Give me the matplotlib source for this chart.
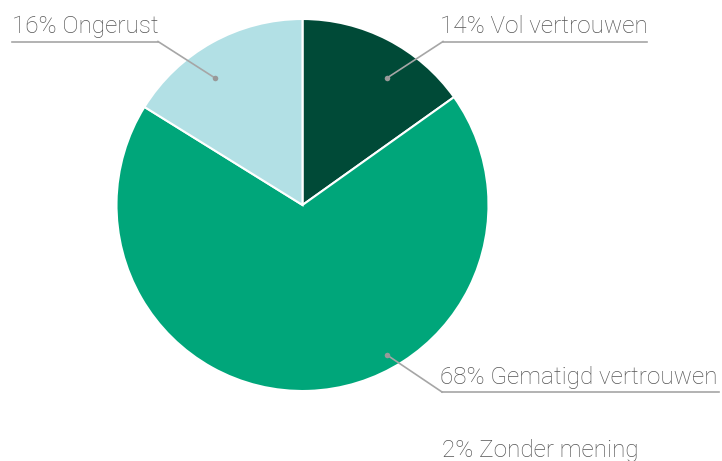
import matplotlib
matplotlib.use('Agg')
import matplotlib.pyplot as plt

# data
labels = ['Vol vertrouwen', 'Gematigd vertrouwen', 'Ongerust']
percent_labels = [14, 68, 16]
# slice shares as drawn in the picture
shares = [15, 68, 16]
colors = ['#004a37', '#00a67a', '#b2e0e5']
no_opinion_label = 'Zonder mening'
no_opinion_value = 2

W, H = 722, 461


def py(y):
    # pixel row -> data y
    return H - y


fig = plt.figure(figsize=(W / 100, H / 100), dpi=100)
ax = fig.add_axes([0, 0, 1, 1])

ax.pie(shares, colors=colors, startangle=90, counterclock=False,
       center=(302.5, py(205)), radius=186, frame=True,
       wedgeprops=dict(edgecolor='white', linewidth=1.5))
ax.set_xlim(0, W)
ax.set_ylim(0, H)
ax.set_aspect('equal')
ax.axis('off')

text_kw = dict(fontsize=17.5, color='#555555', family='Roboto', fontweight='light')
line_kw = dict(color='#a6a6a6', lw=1.2)

# label, text x, baseline y, underline (x0, x1, y), dot (x, y), knee x
callouts = [
    (f'{percent_labels[2]}% {labels[2]}', 12, 33, (12, 158, 41.5), (215, 78), 158),
    (f'{percent_labels[0]}% {labels[0]}', 440, 33, (443, 647, 41.5), (387, 78), 443),
    (f'{percent_labels[1]}% {labels[1]}', 440, 384, (442, 719, 392), (387, 355), 442),
]
for txt, tx, ty, (x0, x1, uy), (dx, dy), kx in callouts:
    ax.text(tx, py(ty), txt, va='baseline', ha='left', **text_kw)
    ax.plot([x0, x1], [py(uy), py(uy)], **line_kw)
    ax.plot([kx, dx], [py(uy), py(dy)], **line_kw)
    ax.plot(dx, py(dy), 'o', color='#999999', ms=4, mec='none')

ax.text(442, py(457), f'{no_opinion_value}% {no_opinion_label}', va='baseline', ha='left', **text_kw)

fig.savefig('out.png', dpi=100)
